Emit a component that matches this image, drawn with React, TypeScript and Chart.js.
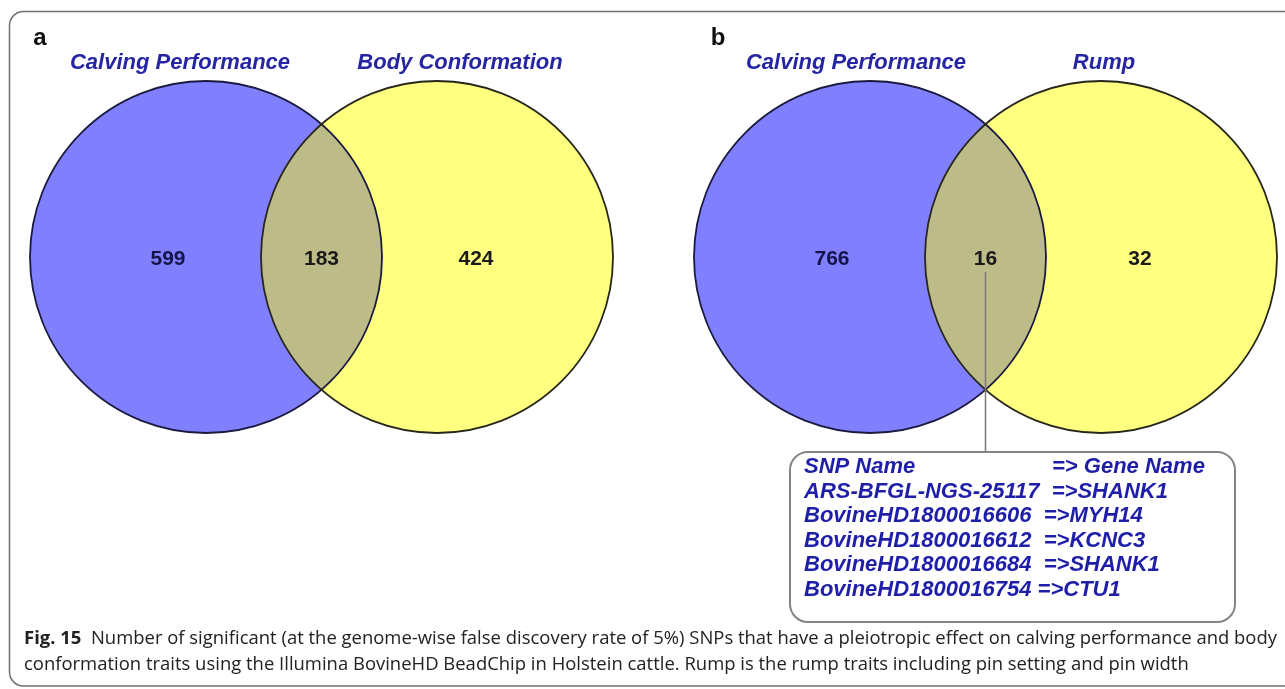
import React, { useEffect, useRef } from 'react';
import { Chart, registerables } from 'chart.js';

Chart.register(...registerables);

// ---------- data ----------
const panelLetters = ['a', 'b'];
const panelATitles = ['Calving Performance', 'Body Conformation'];
const panelBTitles = ['Calving Performance', 'Rump'];
// [left only, shared, right only]
const panelACounts = [599, 183, 424];
const panelBCounts = [766, 16, 32];
const snpHeader = ['SNP Name', '=> Gene Name'];
const snpNames = [
  'ARS-BFGL-NGS-25117',
  'BovineHD1800016606',
  'BovineHD1800016612',
  'BovineHD1800016684',
  'BovineHD1800016754',
];
const snpSeparators = ['  =>', '  =>', '  =>', '  =>', ' =>'];
const geneNames = ['SHANK1', 'MYH14', 'KCNC3', 'SHANK1', 'CTU1'];
const captionBold = 'Fig. 15';
const captionLines = [
  'Number of significant (at the genome-wise false discovery rate of 5%) SNPs that have a pleiotropic effect on calving performance and body',
  'conformation traits using the Illumina BovineHD BeadChip in Holstein cattle. Rump is the rump traits including pin setting and pin width',
];

// ---------- layout ----------
const W = 1285;
const H = 689;
const R = 176;
const CY = 257;
const panelCenters = [
  [206, 437],
  [870, 1101],
];
const titleOffsets = [
  [-26, 23],
  [-14, 3],
];
const BLUE = '#8080fe';
const YELLOW = '#ffff80';
const LENS = '#bdbb87';
const TITLE_BLUE = '#2626a4';
const BOX_BLUE = '#1e1ea8';

export default function App() {
  const ref = useRef<HTMLCanvasElement | null>(null);

  useEffect(() => {
    const canvas = ref.current;
    if (!canvas) return;

    const points: any[] = [];
    const bg: string[] = [];
    panelCenters.forEach((pc) => {
      points.push({ x: pc[0], y: CY, r: R });
      bg.push(BLUE);
      points.push({ x: pc[1], y: CY, r: R });
      bg.push(YELLOW);
    });

    const vennPlugin = {
      id: 'venn',
      afterDatasetsDraw(chart: any) {
        const ctx: CanvasRenderingContext2D = chart.ctx;
        const xs = chart.scales.x;
        const ys = chart.scales.y;
        const X = (v: number) => xs.getPixelForValue(v);
        const Y = (v: number) => ys.getPixelForValue(v);

        // outer frame
        ctx.save();
        ctx.strokeStyle = '#707070';
        ctx.lineWidth = 1.5;
        ctx.beginPath();
        (ctx as any).roundRect(X(9.5), Y(11.5), 1320, Y(686) - Y(11.5), 14);
        ctx.stroke();
        ctx.restore();

        const titles = [panelATitles, panelBTitles];
        const counts = [panelACounts, panelBCounts];
        const letterX = [40, 718];

        panelCenters.forEach((pc, i) => {
          const x1 = X(pc[0]);
          const x2 = X(pc[1]);
          const cy = Y(CY);
          // lens
          ctx.save();
          ctx.beginPath();
          ctx.arc(x1, cy, R, 0, Math.PI * 2);
          ctx.clip();
          ctx.beginPath();
          ctx.arc(x2, cy, R, 0, Math.PI * 2);
          ctx.fillStyle = LENS;
          ctx.fill();
          ctx.restore();
          // outlines
          ctx.save();
          ctx.lineWidth = 1.8;
          ctx.strokeStyle = '#1a1a40';
          ctx.beginPath();
          ctx.arc(x1, cy, R, 0, Math.PI * 2);
          ctx.stroke();
          ctx.strokeStyle = '#26261a';
          ctx.beginPath();
          ctx.arc(x2, cy, R, 0, Math.PI * 2);
          ctx.stroke();
          ctx.restore();

          // panel letter
          ctx.save();
          ctx.fillStyle = '#111';
          ctx.font = 'bold 24px "Liberation Sans", Arial, sans-serif';
          ctx.textAlign = 'center';
          ctx.textBaseline = 'middle';
          ctx.fillText(panelLetters[i], X(letterX[i]), Y(38));
          // titles
          ctx.fillStyle = TITLE_BLUE;
          ctx.font = 'italic bold 22px "Liberation Sans", Arial, sans-serif';
          ctx.fillText(titles[i][0], x1 + titleOffsets[i][0], Y(63));
          ctx.fillText(titles[i][1], x2 + titleOffsets[i][1], Y(63));
          // counts
          ctx.font = 'bold 21px "Liberation Sans", Arial, sans-serif';
          ctx.fillStyle = '#14144a';
          ctx.fillText(String(counts[i][0]), x1 - 38, Y(259));
          ctx.fillStyle = '#1a1a1a';
          ctx.fillText(String(counts[i][1]), (x1 + x2) / 2, Y(259));
          ctx.fillText(String(counts[i][2]), x2 + 39, Y(259));
          ctx.restore();
        });

        // leader line + SNP box
        const lx = (X(panelCenters[1][0]) + X(panelCenters[1][1])) / 2;
        ctx.save();
        ctx.strokeStyle = '#7a7a7a';
        ctx.lineWidth = 1.5;
        ctx.beginPath();
        ctx.moveTo(lx, Y(272));
        ctx.lineTo(lx, Y(452));
        ctx.stroke();
        ctx.strokeStyle = '#858585';
        ctx.lineWidth = 2;
        ctx.beginPath();
        (ctx as any).roundRect(X(790), Y(452), 445, Y(622) - Y(452), 18);
        ctx.stroke();

        ctx.fillStyle = BOX_BLUE;
        ctx.font = 'italic bold 22px "Liberation Sans", Arial, sans-serif';
        ctx.textAlign = 'left';
        ctx.textBaseline = 'middle';
        const lineY0 = 467;
        const step = 24.6;
        ctx.fillText(snpHeader[0], X(804), Y(lineY0));
        ctx.fillText(snpHeader[1], X(1052), Y(lineY0));
        snpNames.forEach((n, k) => {
          ctx.fillText(n + snpSeparators[k] + geneNames[k], X(804), Y(lineY0 + step * (k + 1)));
        });
        ctx.restore();

        // caption
        ctx.save();
        ctx.fillStyle = '#222';
        ctx.textBaseline = 'middle';
        ctx.textAlign = 'left';
        const boldFont = 'bold 18px "Open Sans", sans-serif';
        const normFont = '18px "Open Sans", sans-serif';
        ctx.font = boldFont;
        const bw = ctx.measureText(captionBold + '  ').width;
        ctx.font = normFont;
        const nw = ctx.measureText(captionLines[0]).width;
        const target = 1277 - 24;
        const sx = target / (bw + nw);
        ctx.translate(X(24), 0);
        ctx.scale(sx, 1);
        ctx.font = boldFont;
        ctx.fillText(captionBold, 0, Y(639));
        ctx.font = normFont;
        ctx.fillText(captionLines[0], bw, Y(639));
        ctx.fillText(captionLines[1], 0, Y(665));
        ctx.restore();
      },
    };

    const chart = new Chart(canvas, {
      type: 'bubble',
      data: {
        datasets: [
          {
            data: points,
            backgroundColor: bg,
            borderWidth: 0,
            clip: false as any,
          },
        ],
      },
      options: {
        responsive: false,
        animation: false,
        events: [],
        layout: { padding: 0, autoPadding: false },
        plugins: { legend: { display: false }, tooltip: { enabled: false } },
        scales: {
          x: { type: 'linear', min: 0, max: W, display: false },
          y: { type: 'linear', min: 0, max: H, reverse: true, display: false },
        },
      },
      plugins: [vennPlugin],
    });
    return () => chart.destroy();
  }, []);

  return (
    <div style={{ position: 'fixed', left: 0, top: 0, width: W, height: H, background: '#fff' }}>
      <canvas ref={ref} width={W} height={H} style={{ width: W, height: H, display: 'block' }} />
    </div>
  );
}
